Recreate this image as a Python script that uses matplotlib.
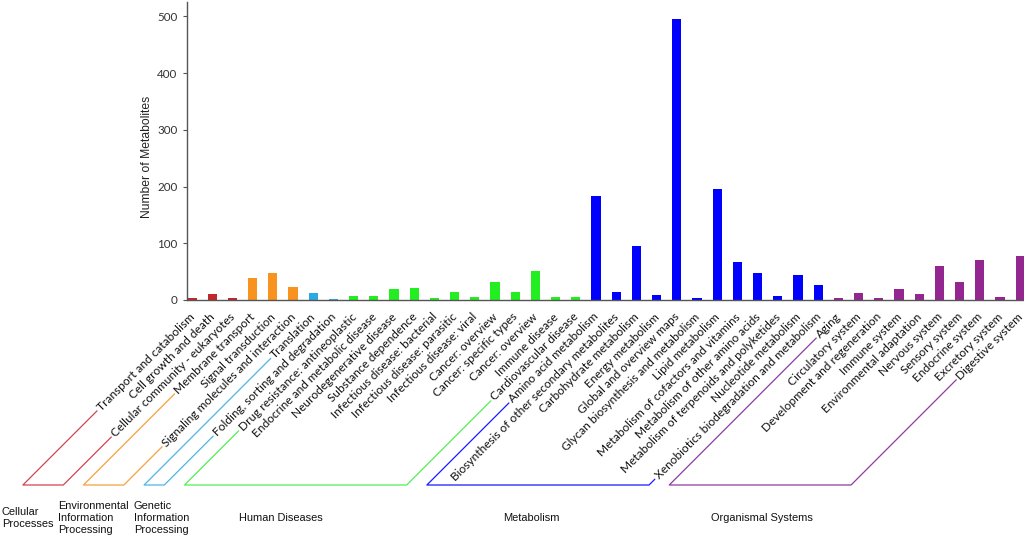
import matplotlib
matplotlib.use("Agg")
import matplotlib.pyplot as plt
from matplotlib.lines import Line2D
from matplotlib.transforms import ScaledTranslation
import numpy as np

# ---------------- data ----------------
groups = ["Cellular\nProcesses", "Environmental\nInformation\nProcessing",
          "Genetic\nInformation\nProcessing", "Human Diseases", "Metabolism",
          "Organismal Systems"]

cellular_cats = ["Transport and catabolism", "Cell growth and death",
                 "Cellular community - eukaryotes"]
cellular_vals = [3, 10, 4]

env_cats = ["Membrane transport", "Signal transduction",
            "Signaling molecules and interaction"]
env_vals = [38, 47, 23]

genetic_cats = ["Translation", "Folding, sorting and degradation"]
genetic_vals = [13, 1]

disease_cats = ["Drug resistance: antineoplastic", "Endocrine and metabolic disease",
                "Neurodegenerative disease", "Substance dependence",
                "Infectious disease: bacterial", "Infectious disease: parasitic",
                "Infectious disease: viral", "Cancer: overview",
                "Cancer: specific types", "Cancer: overview", "Immune disease",
                "Cardiovascular disease"]
disease_vals = [7, 7, 19, 22, 4, 14, 6, 31, 14, 52, 5, 5]

metab_cats = ["Amino acid metabolism", "Biosynthesis of other secondary metabolites",
              "Carbohydrate metabolism", "Energy metabolism",
              "Global and overview maps", "Glycan biosynthesis and metabolism",
              "Lipid metabolism", "Metabolism of cofactors and vitamins",
              "Metabolism of other amino acids",
              "Metabolism of terpenoids and polyketides", "Nucleotide metabolism",
              "Xenobiotics biodegradation and metabolism"]
metab_vals = [184, 14, 96, 9, 495, 3, 195, 67, 47, 7, 44, 26]

organ_cats = ["Aging", "Circulatory system", "Development and regeneration",
              "Immune system", "Environmental adaptation", "Nervous system",
              "Sensory system", "Endocrine system", "Excretory system",
              "Digestive system"]
organ_vals = [3, 12, 3, 20, 10, 60, 32, 71, 6, 78]

bar_colors = ["#C1272D", "#F7931E", "#29ABE2", "#22EE22", "#0000FF", "#93278F"]
line_colors = ["#D4434F", "#F7A13A", "#4DB6E6", "#55EE55", "#1A1AFF", "#8E3C9E"]

cat_lists = [cellular_cats, env_cats, genetic_cats, disease_cats, metab_cats, organ_cats]
val_lists = [cellular_vals, env_vals, genetic_vals, disease_vals, metab_vals, organ_vals]

# ---------------- figure ----------------
W, H, DPI = 1024, 540, 100
fig = plt.figure(figsize=(W / DPI, H / DPI), dpi=DPI)
ax = fig.add_axes([187.3 / W, 1 - 300 / H, (W - 187.3) / W, (300 - 1.7) / H])

cats, vals, cols = [], [], []
for g, (cl, vl) in enumerate(zip(cat_lists, val_lists)):
    cats += cl
    vals += vl
    cols += [bar_colors[g]] * len(cl)
x = np.arange(1, len(cats) + 1)

ax.bar(x, vals, width=0.45, color=cols, linewidth=0)

ax.set_xlim(0.767, 42.19)
ax.set_ylim(0, 526)
ax.set_yticks([0, 100, 200, 300, 400, 500])
for s in ["top", "right"]:
    ax.spines[s].set_visible(False)
for s in ["left", "bottom"]:
    ax.spines[s].set_color("#555555")
    ax.spines[s].set_linewidth(1.0)

ax.tick_params(axis="y", length=3, width=0.8, color="#555555", pad=4,
               labelsize=8.4, labelcolor="#333333")
for t in ax.get_yticklabels():
    t.set_family(["Lato", "DejaVu Sans"])

ax.set_xticks(x)
ax.set_xticklabels(cats, rotation=45, ha="right", va="top",
                   rotation_mode="anchor", fontsize=8.6,
                   family=["Lato", "DejaVu Sans"], color="#111111")
ax.tick_params(axis="x", length=0, pad=8)
offset = ScaledTranslation(-3 / DPI, 0, fig.dpi_scale_trans)
for t in ax.get_xticklabels():
    t.set_transform(t.get_transform() + offset)

ax.set_ylabel("Number of Metabolites", family=["Liberation Sans", "DejaVu Sans"],
              fontsize=8.7, color="#222222")
ax.yaxis.set_label_coords((153.0 - 187.3) / (W - 187.3), 0.48)

# ---------------- group brackets ----------------
fig.canvas.draw()
renderer = fig.canvas.get_renderer()
labels = ax.get_xticklabels()
y_bot = H - 485  # display coords (origin bottom)
c = np.cos(np.pi / 4)


def start_point(lab):
    bb = lab.get_window_extent(renderer)
    h = lab.get_fontsize() * DPI / 72 * 1.0
    return bb.x0 + h * c * 0.45 - 2, bb.y0 + h * c * 0.45 - 2


i0 = 0
for g, cl in enumerate(cat_lists):
    i1 = i0 + len(cl) - 1
    sx0, sy0 = start_point(labels[i0])
    sx1, sy1 = start_point(labels[i1])
    bx0 = sx0 - (sy0 - y_bot)
    bx1 = sx1 - (sy1 - y_bot)
    xs = np.array([sx0, bx0, bx1, sx1]) / W
    ys = np.array([sy0, y_bot, y_bot, sy1]) / H
    fig.add_artist(Line2D(xs, ys, transform=fig.transFigure,
                          color=line_colors[g], linewidth=0.9))
    i0 = i1 + 1

# ---------------- group names ----------------
gfont = dict(family=["Liberation Sans", "DejaVu Sans"], fontsize=7.9,
             color="#111111", va="center", linespacing=1.2)
name_pos = [(2, "left"), (58, "left"), (134, "left"),
            (281, "center"), (531, "center"), (762, "center")]
for name, (px, ha) in zip(groups, name_pos):
    fig.text(px / W, 1 - 518 / H, name, ha=ha, **gfont)

fig.savefig("out.png", dpi=DPI)
